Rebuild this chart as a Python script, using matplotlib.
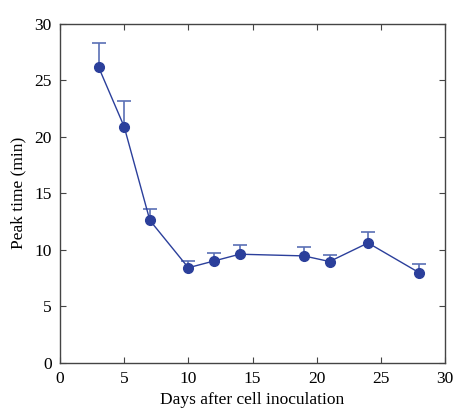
import matplotlib
matplotlib.use("Agg")
import matplotlib.pyplot as plt
import numpy as np

# Data
days = [3, 5, 7, 10, 12, 14, 19, 21, 24, 28]
peak_time = [26.2, 20.9, 12.6, 8.4, 9.0, 9.6, 9.45, 8.95, 10.6, 7.95]
err_upper = [2.15, 2.25, 1.05, 0.6, 0.75, 0.8, 0.75, 0.6, 0.95, 0.8]

plt.rcParams['font.family'] = ['Liberation Serif', 'DejaVu Serif']

fig = plt.figure(figsize=(4.67, 4.15), dpi=100)
ax = fig.add_axes([0.1285, 0.1265, 0.8245, 0.8155])

color = '#2b3f9b'
ecolor = '#5a6fb5'
tops = np.array(peak_time) + np.array(err_upper)

# upper-only error bars with a single cap
ax.errorbar(days, peak_time, yerr=[[0] * len(err_upper), err_upper],
            fmt='none', ecolor=ecolor, elinewidth=1.2, capsize=0, zorder=1)
ax.plot(days, tops, linestyle='none', marker='_', markersize=10,
        markeredgewidth=1.2, color=ecolor, zorder=1)
ax.plot(days, peak_time, '-o', color=color, markersize=7, linewidth=1, zorder=2)

ax.set_xlim(0, 30)
ax.set_ylim(0, 30)
ax.set_xticks(range(0, 31, 5))
ax.set_yticks(range(0, 31, 5))
ax.tick_params(direction='in', top=True, right=True, labelsize=12.5, length=4,
               color='#444444', pad=6)
for s in ax.spines.values():
    s.set_color('#444444')
    s.set_linewidth(1)

ax.set_xlabel('Days after cell inoculation', fontsize=12.5, labelpad=4)
ax.set_ylabel('Peak time (min)', fontsize=12.5, labelpad=6)

fig.savefig('out.png', dpi=100)
